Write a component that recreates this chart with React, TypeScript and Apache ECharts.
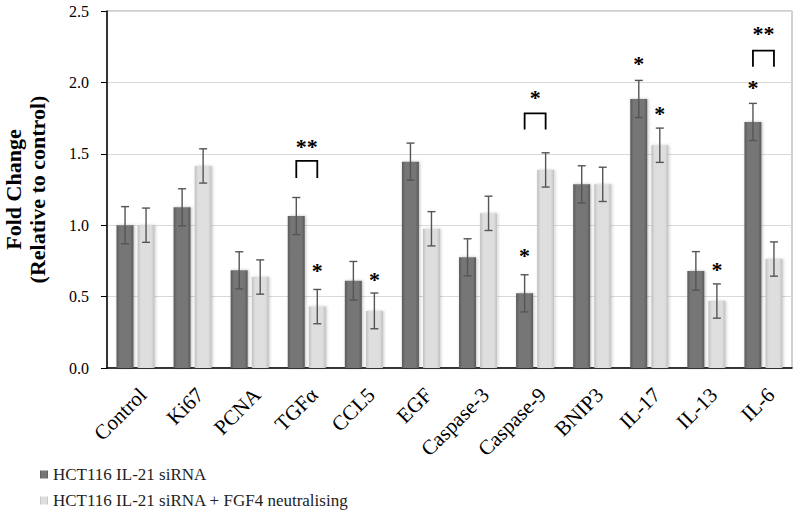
import React, { useEffect, useRef } from "react";
import * as echarts from "echarts";

const categories = ["Control", "Ki67", "PCNA", "TGFα", "CCL5", "EGF", "Caspase-3", "Caspase-9", "BNIP3", "IL-17", "IL-13", "IL-6"];
const seriesNames = ["HCT116 IL-21 siRNA", "HCT116 IL-21 siRNA + FGF4 neutralising"];
const siRNA = [1.0, 1.125, 0.684, 1.064, 0.611, 1.445, 0.775, 0.523, 1.286, 1.884, 0.68, 1.723];
const siRNAErr = [0.13, 0.13, 0.13, 0.13, 0.135, 0.13, 0.13, 0.13, 0.13, 0.13, 0.135, 0.13];
const fgf4 = [1.0, 1.415, 0.637, 0.43, 0.4, 0.975, 1.083, 1.387, 1.286, 1.56, 0.469, 0.763];
const fgf4Err = [0.12, 0.12, 0.12, 0.12, 0.125, 0.12, 0.12, 0.12, 0.12, 0.12, 0.12, 0.12];
const yTicks = [0, 0.5, 1.0, 1.5, 2.0, 2.5];

// significance stars: [category index, value, side (-1 = first series, 1 = second series)]
const stars: number[][] = [
  [3, 0.71, 1],
  [4, 0.651, 1],
  [7, 0.814, -1],
  [9, 2.157, -1],
  [9, 1.807, 1],
  [10, 0.721, 1],
  [11, 1.989, -1],
];
// brackets: [category index, top value, bottom value, label value]
const brackets: number[][] = [
  [3, 1.45, 1.33, 1.576],
  [7, 1.783, 1.671, 1.923],
  [11, 2.222, 2.11, 2.372],
];
const bracketLabels = ["**", "*", "**"];

const FONT = "Liberation Serif";
const SIDE = 0.184;

export default function App() {
  const ref = useRef<HTMLDivElement>(null);
  useEffect(() => {
    if (!ref.current) return;
    const chart = echarts.init(ref.current, null, { renderer: "svg" });

    const darkGrad = new echarts.graphic.LinearGradient(0, 0, 1, 0, [
      { offset: 0, color: "#5a5a5a" },
      { offset: 0.2, color: "#767676" },
      { offset: 0.8, color: "#767676" },
      { offset: 1, color: "#5a5a5a" },
    ]);
    const lightGrad = new echarts.graphic.LinearGradient(0, 0, 1, 0, [
      { offset: 0, color: "#c0c0c0" },
      { offset: 0.2, color: "#dedede" },
      { offset: 0.8, color: "#dedede" },
      { offset: 1, color: "#c0c0c0" },
    ]);

    const errRender = (side: number) => (params: any, api: any) => {
      const cat = api.value(0);
      const v = api.value(1);
      const e = api.value(2);
      const bw = api.size([1, 0])[0];
      const top = api.coord([cat, v + e]);
      const bot = api.coord([cat, v - e]);
      const x = top[0] + side * SIDE * bw;
      const style = { stroke: "#555", lineWidth: 1.4 };
      return {
        type: "group",
        children: [
          { type: "line", shape: { x1: x, y1: top[1], x2: x, y2: bot[1] }, style },
          { type: "line", shape: { x1: x - 4, y1: top[1], x2: x + 4, y2: top[1] }, style },
          { type: "line", shape: { x1: x - 4, y1: bot[1], x2: x + 4, y2: bot[1] }, style },
        ],
      };
    };

    const option: any = {
      animation: false,
      textStyle: { fontFamily: FONT },
      grid: {
        left: 107,
        right: 3,
        top: 11,
        bottom: 147,
        show: true,
        borderColor: "#a0a0a0",
        borderWidth: 1,
        outerBoundsMode: "none",
        containLabel: false,
      },
      legend: {
        data: seriesNames,
        orient: "vertical",
        left: 40,
        top: 466,
        height: 60,
        padding: 0,
        itemWidth: 8,
        itemHeight: 8,
        itemGap: 9,
        icon: "rect",
        textStyle: { fontFamily: FONT, fontSize: 17, color: "#222" },
      },
      xAxis: {
        type: "category",
        data: categories,
        axisLine: { lineStyle: { color: "#000", width: 1.5 } },
        axisTick: { show: false },
        axisLabel: {
          rotate: 45,
          fontFamily: FONT,
          fontSize: 21,
          color: "#000",
          margin: 16,
          interval: 0,
          verticalAlign: "top",
          align: "right",
        },
      },
      yAxis: {
        type: "value",
        min: 0,
        max: 2.5,
        interval: 0.5,
        name: "Fold Change\n(Relative to control)",
        nameLocation: "middle",
        nameGap: 58,
        nameRotate: 90,
        nameTextStyle: { fontFamily: FONT, fontSize: 22, fontWeight: "bold", color: "#000", lineHeight: 24 },
        axisLine: { show: true, lineStyle: { color: "#000", width: 1.5 } },
        axisTick: { show: true, length: 6, lineStyle: { color: "#000" } },
        axisLabel: {
          fontFamily: FONT,
          fontSize: 16,
          color: "#000",
          margin: 18,
          formatter: (v: number) => (yTicks.includes(v) ? v.toFixed(1) : ""),
        },
        splitLine: { lineStyle: { color: "#d9d9d9", width: 1 } },
      },
      series: [
        {
          name: seriesNames[0],
          type: "bar",
          data: siRNA,
          barWidth: 17,
          barGap: "24%",
          itemStyle: { color: darkGrad, shadowColor: "rgba(0,0,0,0.25)", shadowBlur: 3, shadowOffsetX: 1 },
        },
        {
          name: seriesNames[1],
          type: "bar",
          data: fgf4,
          barWidth: 17,
          itemStyle: { color: lightGrad, shadowColor: "rgba(0,0,0,0.2)", shadowBlur: 3, shadowOffsetX: 1 },
        },
        {
          type: "custom",
          renderItem: errRender(-1),
          data: siRNA.map((v, i) => [i, v, siRNAErr[i]]),
          encode: { x: 0, y: 1 },
          z: 5,
          silent: true,
        },
        {
          type: "custom",
          renderItem: errRender(1),
          data: fgf4.map((v, i) => [i, v, fgf4Err[i]]),
          encode: { x: 0, y: 1 },
          z: 5,
          silent: true,
        },
        {
          type: "custom",
          data: stars,
          encode: { x: 0, y: 1 },
          z: 6,
          silent: true,
          renderItem: (params: any, api: any) => {
            const p = api.coord([api.value(0), api.value(1)]);
            const bw = api.size([1, 0])[0];
            const x = p[0] + api.value(2) * SIDE * bw;
            return {
              type: "text",
              x,
              y: p[1] + 4,
              style: {
                text: "*",
                font: `bold 22px ${FONT}`,
                fill: "#000",
                align: "center",
                verticalAlign: "middle",
              },
            };
          },
        },
        {
          type: "custom",
          data: brackets,
          encode: { x: 0, y: 1 },
          z: 6,
          silent: true,
          renderItem: (params: any, api: any) => {
            const cat = api.value(0);
            const bw = api.size([1, 0])[0];
            const t = api.coord([cat, api.value(1)]);
            const b = api.coord([cat, api.value(2)]);
            const l = api.coord([cat, api.value(3)]);
            const x1 = t[0] - SIDE * bw;
            const x2 = t[0] + SIDE * bw;
            return {
              type: "group",
              children: [
                {
                  type: "polyline",
                  shape: { points: [[x1, b[1]], [x1, t[1]], [x2, t[1]], [x2, b[1]]] },
                  style: { stroke: "#000", lineWidth: 1.8, fill: null },
                },
                {
                  type: "text",
                  x: t[0],
                  y: l[1] + 4,
                  style: {
                    text: bracketLabels[params.dataIndex],
                    font: `bold 22px ${FONT}`,
                    fill: "#000",
                    align: "center",
                    verticalAlign: "middle",
                  },
                },
              ],
            };
          },
        },
      ],
    };
    chart.setOption(option);
    return () => chart.dispose();
  }, []);
  return <div ref={ref} style={{ position: "absolute", left: 0, top: 0, width: 795, height: 515 }} />;
}
